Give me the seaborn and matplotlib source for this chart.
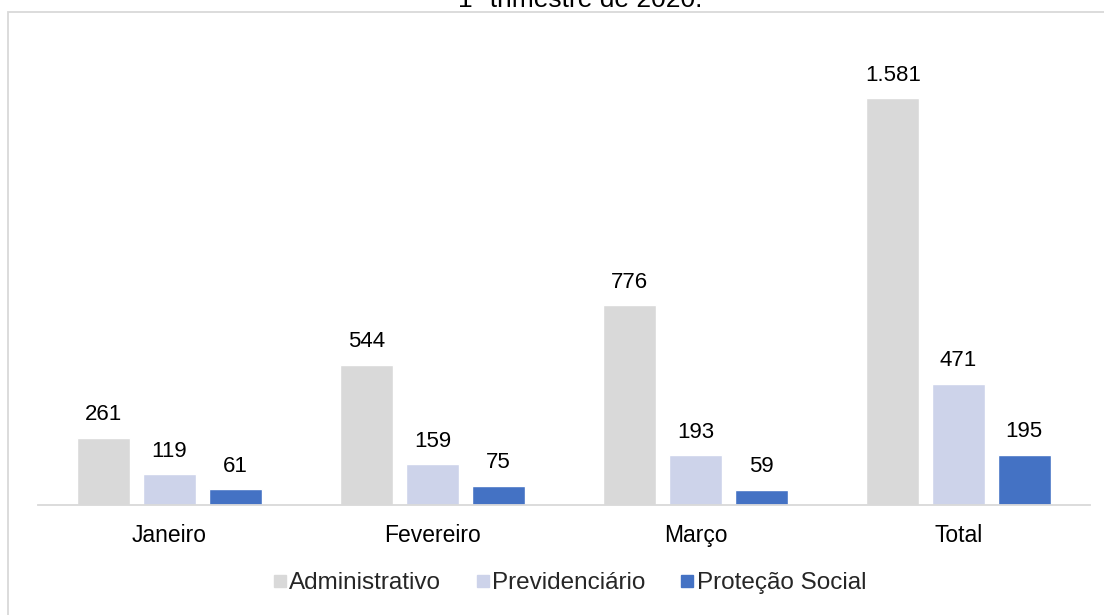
import pandas as pd
import matplotlib.pyplot as plt
import seaborn as sns
from matplotlib.patches import Rectangle

# ------------------------------------------
# Data
# ------------------------------------------
meses = ["Janeiro", "Fevereiro", "Março", "Total"]
series = ["Administrativo", "Previdenciário", "Proteção Social"]
administrativo = [261, 544, 776, 1581]
previdenciario = [119, 159, 193, 471]
protecao_social = [61, 75, 59, 195]
cores = ["#D9D9D9", "#CDD3EA", "#4472C4"]

df = pd.DataFrame({
    "Mes": meses * 3,
    "Tipo": [s for s in series for _ in meses],
    "Valor": administrativo + previdenciario + protecao_social,
})

def fmt(v):
    return f"{v:,.0f}".replace(",", ".")

# ------------------------------------------
# Plot
# ------------------------------------------
sns.set_theme(style="white")
plt.rcParams["font.family"] = ["Liberation Sans", "DejaVu Sans"]

fig = plt.figure(figsize=(11.04, 6.15), dpi=100)
ax = fig.add_axes([38 / 1104, 1 - 505 / 615, 1052 / 1104, 465 / 615])

sns.barplot(
    data=df, x="Mes", y="Valor", hue="Tipo",
    palette=cores, width=0.75, gap=0.2, ax=ax,
    saturation=1, legend=False,
)

for cont in ax.containers:
    vals = [fmt(b.get_height()) for b in cont]
    ax.bar_label(cont, labels=vals, padding=9, fontsize=16, color="#000000")

ax.set_ylim(0, 1581 * 465 / 407)
ax.set_xlim(-0.5, 3.5)
ax.set_xlabel("")
ax.set_ylabel("")
ax.set_yticks([])
ax.tick_params(axis="x", labelsize=16.5, colors="#000000", pad=13.5, length=0)
for s in ["top", "right", "left"]:
    ax.spines[s].set_visible(False)
ax.spines["bottom"].set_color("#D9D9D9")
ax.spines["bottom"].set_linewidth(1.3)

# legend
handles = [plt.Line2D([], [], marker="s", linestyle="", markersize=9,
                      color=c) for c in cores]
fig.legend(handles, series, loc="center", bbox_to_anchor=(568 / 1104, 1 - 583 / 615),
           ncol=3, frameon=False, fontsize=17.5, handletextpad=0.0,
           columnspacing=1.3, handlelength=0.8)

# chart border and cut title
fig.patches.append(Rectangle((8 / 1104, -0.1), 1.2, 1 - 12 / 615 + 0.1,
                             transform=fig.transFigure, fill=False,
                             edgecolor="#D9D9D9", linewidth=1.3))
fig.text(580 / 1104, 1 - 7 / 615, "1º trimestre de 2020.", ha="center",
         va="baseline", fontsize=19, color="#000000")

plt.savefig("out.png", dpi=100)
